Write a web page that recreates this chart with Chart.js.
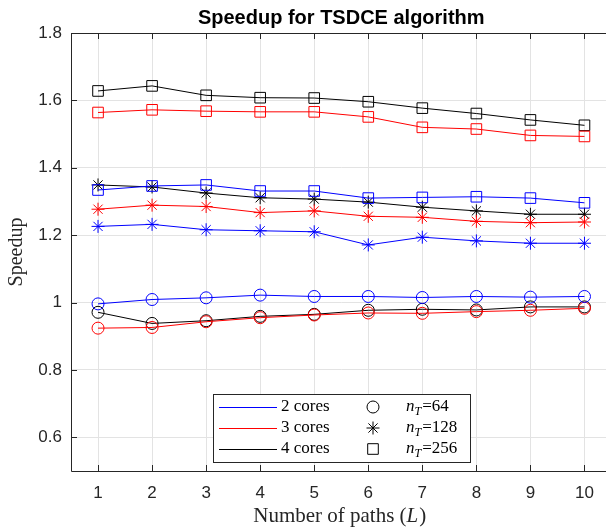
<!DOCTYPE html>
<html>
<head>
<meta charset="utf-8">
<script src="https://cdn.jsdelivr.net/npm/chart.js@4.4.1/dist/chart.umd.min.js"></script>
<style>
  html, body { margin: 0; padding: 0; background: #fff; overflow: hidden; }
  canvas { display: block; }
</style>
</head>
<body>
<canvas id="speedupChart" width="620" height="528"></canvas>
<script>
// Number of paths (x axis)
var paths = [1, 2, 3, 4, 5, 6, 7, 8, 9, 10];
var xTicks = [1, 2, 3, 4, 5, 6, 7, 8, 9, 10];
var yTicks = [0.6, 0.8, 1, 1.2, 1.4, 1.6, 1.8];

// 2 cores
var cores2_n64  = [0.996, 1.009, 1.014, 1.022, 1.018, 1.018, 1.015, 1.018, 1.016, 1.018];
var cores2_n128 = [1.226, 1.232, 1.216, 1.213, 1.210, 1.171, 1.194, 1.183, 1.176, 1.176];
var cores2_n256 = [1.334, 1.346, 1.349, 1.331, 1.331, 1.310, 1.312, 1.314, 1.310, 1.296];

// 3 cores
var cores3_n64  = [0.924, 0.926, 0.943, 0.955, 0.963, 0.969, 0.968, 0.973, 0.977, 0.983];
var cores3_n128 = [1.277, 1.289, 1.285, 1.267, 1.272, 1.256, 1.253, 1.241, 1.237, 1.239];
var cores3_n256 = [1.564, 1.572, 1.568, 1.566, 1.566, 1.551, 1.520, 1.515, 1.496, 1.493];

// 4 cores
var cores4_n64  = [0.971, 0.938, 0.946, 0.959, 0.965, 0.977, 0.980, 0.978, 0.987, 0.987];
var cores4_n128 = [1.349, 1.343, 1.325, 1.311, 1.307, 1.298, 1.283, 1.272, 1.262, 1.262];
var cores4_n256 = [1.628, 1.643, 1.615, 1.608, 1.607, 1.596, 1.577, 1.561, 1.542, 1.526];

var sansFont = "'Liberation Sans', Arial, sans-serif";
var serifFont = "'Liberation Serif', 'Times New Roman', serif";

// marker settings for each n_T value
var markers = {
    64:  { pointStyle: 'circle', radius: 6 },
    128: { pointStyle: 'star', radius: 6.5 },
    256: { pointStyle: 'rect', radius: 7.5 }
};

function makeSet(values, color, nT) {
    return {
        label: nT,
        data: paths.map(function (p, i) { return { x: p, y: values[i] }; }),
        borderColor: color,
        backgroundColor: 'rgba(0,0,0,0)',
        borderWidth: 1,
        pointStyle: markers[nT].pointStyle,
        pointRadius: markers[nT].radius,
        pointHoverRadius: markers[nT].radius,
        pointBorderColor: color,
        pointBackgroundColor: 'rgba(0,0,0,0)',
        pointBorderWidth: 1,
        fill: false,
        tension: 0
    };
}

// Draws the box, inner ticks, title, axis titles and the legend
var decorations = {
    id: 'decorations',
    afterDraw: function (chart) {
        var ctx = chart.ctx;
        var area = chart.chartArea;
        var xs = chart.scales.x;
        var ys = chart.scales.y;
        ctx.save();

        // axes box
        ctx.strokeStyle = '#262626';
        ctx.lineWidth = 1;
        ctx.beginPath();
        ctx.moveTo(Math.round(area.left) + 0.5, Math.round(area.bottom) + 0.5);
        ctx.lineTo(Math.round(area.left) + 0.5, Math.round(area.top) + 0.5);
        ctx.lineTo(Math.round(area.right) + 0.5, Math.round(area.top) + 0.5);
        ctx.moveTo(Math.round(area.left) + 0.5, Math.round(area.bottom) + 0.5);
        ctx.lineTo(Math.round(area.right) + 0.5, Math.round(area.bottom) + 0.5);
        // inward tick marks
        xTicks.forEach(function (v) {
            var px = Math.round(xs.getPixelForValue(v)) + 0.5;
            ctx.moveTo(px, area.bottom);
            ctx.lineTo(px, area.bottom - 6);
            ctx.moveTo(px, area.top);
            ctx.lineTo(px, area.top + 6);
        });
        yTicks.forEach(function (v) {
            var py = Math.round(ys.getPixelForValue(v)) + 0.5;
            ctx.moveTo(area.left, py);
            ctx.lineTo(area.left + 6, py);
        });
        ctx.stroke();

        // title
        ctx.fillStyle = '#000';
        ctx.font = 'bold 20px ' + sansFont;
        ctx.textAlign = 'center';
        ctx.textBaseline = 'alphabetic';
        ctx.fillText('Speedup for TSDCE algorithm', (area.left + area.right) / 2, 24);

        // x axis title
        ctx.fillStyle = '#262626';
        var xFont = '21px ' + serifFont;
        var xFontIt = 'italic 21px ' + serifFont;
        ctx.font = xFont;
        var t1 = 'Number of paths (';
        var t2 = 'L';
        var t3 = ')';
        var w1 = ctx.measureText(t1).width;
        var w3 = ctx.measureText(t3).width;
        ctx.font = xFontIt;
        var w2 = ctx.measureText(t2).width;
        var startX = (area.left + area.right) / 2 - (w1 + w2 + w3) / 2 - 2;
        ctx.textAlign = 'left';
        ctx.font = xFont;
        ctx.fillText(t1, startX, 522);
        ctx.font = xFontIt;
        ctx.fillText(t2, startX + w1, 522);
        ctx.font = xFont;
        ctx.fillText(t3, startX + w1 + w2 + 1, 522);

        // y axis title
        ctx.save();
        ctx.font = '20px ' + serifFont;
        ctx.translate(22, (area.top + area.bottom) / 2);
        ctx.rotate(-Math.PI / 2);
        ctx.textAlign = 'center';
        ctx.fillText('Speedup', 0, 0);
        ctx.restore();

        // legend
        var lx = 213.5, ly = 394.5, lw = 257, lh = 68;
        ctx.fillStyle = '#fff';
        ctx.fillRect(lx, ly, lw, lh);
        ctx.strokeStyle = '#262626';
        ctx.strokeRect(lx, ly, lw, lh);

        var rows = [407, 428, 449];
        var coreNames = ['2 cores', '3 cores', '4 cores'];
        var coreColors = ['#0000ff', '#ff0000', '#000000'];
        var nTs = [64, 128, 256];
        for (var i = 0; i < 3; i++) {
            var ry = rows[i];
            ctx.strokeStyle = coreColors[i];
            ctx.lineWidth = 1;
            ctx.beginPath();
            ctx.moveTo(219, ry + 0.5);
            ctx.lineTo(277, ry + 0.5);
            ctx.stroke();

            ctx.fillStyle = '#000';
            ctx.textAlign = 'left';
            ctx.textBaseline = 'middle';
            ctx.font = '17px ' + serifFont;
            ctx.fillText(coreNames[i], 281, ry);

            // legend marker: black outline, no fill
            ctx.strokeStyle = '#000';
            ctx.fillStyle = 'rgba(0,0,0,0)';
            ctx.lineWidth = 1;
            Chart.helpers.drawPoint(ctx, {
                pointStyle: markers[nTs[i]].pointStyle,
                radius: markers[nTs[i]].radius,
                rotation: 0,
                borderWidth: 1
            }, 373, ry);

            ctx.fillStyle = '#000';
            ctx.font = 'italic 17px ' + serifFont;
            ctx.fillText('n', 406, ry);
            var nw = ctx.measureText('n').width;
            ctx.font = 'italic 12px ' + serifFont;
            ctx.fillText('T', 406 + nw, ry + 5);
            var tw = ctx.measureText('T').width;
            ctx.font = '17px ' + serifFont;
            ctx.fillText('=' + nTs[i], 406 + nw + tw + 1, ry);
        }
        ctx.restore();
    }
};

document.addEventListener('DOMContentLoaded', function () {
    var ctx = document.getElementById('speedupChart').getContext('2d');

    var myChart = new Chart(ctx, {
        type: 'line',
        data: {
            datasets: [
                makeSet(cores2_n64, '#0000ff', 64),
                makeSet(cores2_n128, '#0000ff', 128),
                makeSet(cores2_n256, '#0000ff', 256),
                makeSet(cores3_n64, '#ff0000', 64),
                makeSet(cores3_n128, '#ff0000', 128),
                makeSet(cores3_n256, '#ff0000', 256),
                makeSet(cores4_n64, '#000000', 64),
                makeSet(cores4_n128, '#000000', 128),
                makeSet(cores4_n256, '#000000', 256)
            ]
        },
        options: {
            responsive: false,
            animation: false,
            devicePixelRatio: 1,
            layout: { padding: { top: 33, right: 7, left: 0, bottom: 0 } },
            plugins: {
                legend: { display: false },
                title: { display: false },
                tooltip: { enabled: false }
            },
            scales: {
                x: {
                    type: 'linear',
                    min: 0.5,
                    max: 10.5,
                    afterBuildTicks: function (scale) {
                        scale.ticks = xTicks.map(function (v) { return { value: v }; });
                    },
                    afterFit: function (scale) { scale.height = 57; },
                    grid: { color: '#e3e3e3', drawTicks: false },
                    border: { display: false },
                    ticks: {
                        padding: 12,
                        color: '#262626',
                        font: { family: sansFont, size: 17 },
                        maxRotation: 0
                    }
                },
                y: {
                    type: 'linear',
                    min: 0.5,
                    max: 1.8,
                    afterBuildTicks: function (scale) {
                        scale.ticks = yTicks.map(function (v) { return { value: v }; });
                    },
                    afterFit: function (scale) { scale.width = 71; },
                    grid: { color: '#e3e3e3', drawTicks: false },
                    border: { display: false },
                    ticks: {
                        padding: 9,
                        color: '#262626',
                        font: { family: sansFont, size: 17 },
                        callback: function (v) { return String(Math.round(v * 10) / 10); }
                    }
                }
            }
        },
        plugins: [decorations]
    });
});
</script>
</body>
</html>
